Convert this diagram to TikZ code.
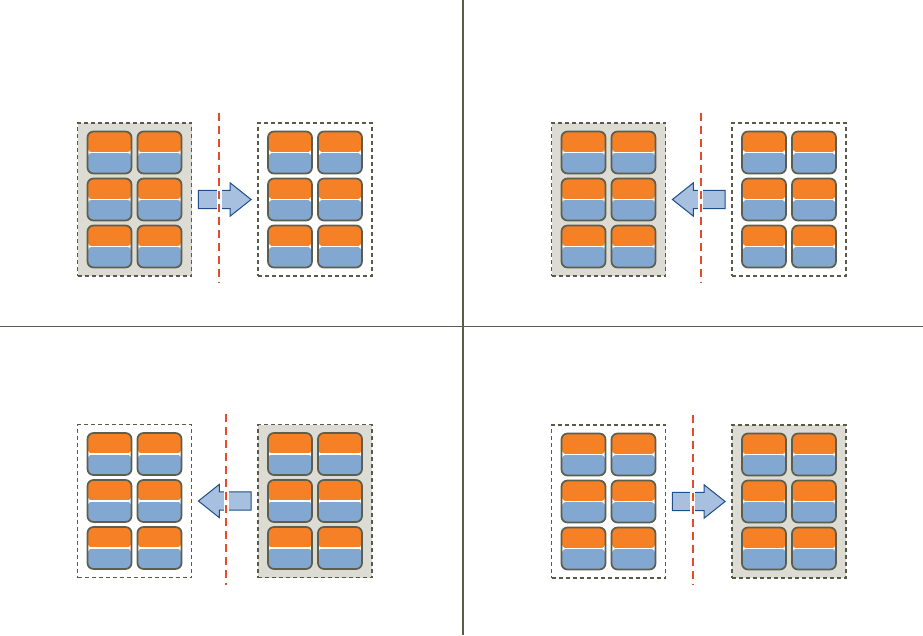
\documentclass[tikz,border=0pt]{standalone}
\usepackage{tikz}
\usetikzlibrary{positioning,calc}

\definecolor{cardorange}{HTML}{F58025}
\definecolor{cardblue}{HTML}{82A7D1}
\definecolor{cardline}{HTML}{5E5E4C}
\definecolor{slotfill}{HTML}{DCDCD4}
\definecolor{slotline}{HTML}{5A5A48}
\definecolor{arrowfill}{HTML}{A8C0E0}
\definecolor{arrowline}{HTML}{1E4E8A}
\definecolor{cutred}{HTML}{EA4A2C}
\definecolor{gridline}{HTML}{5C5C48}

\begin{document}
\begin{tikzpicture}[x=1pt,y=-1pt,
slot/.style={draw=slotline, line width=1.3pt, dash pattern=on 4pt off 3pt,
minimum width=114pt, minimum height=153pt, inner sep=0pt, outer sep=0pt},
full/.style={slot, fill=slotfill},
card/.style={draw=cardline, line width=1.7pt, rounded corners=6pt,
minimum width=44pt, minimum height=42pt, inner sep=0pt,
path picture={
\fill[cardorange] (path picture bounding box.north west) rectangle (path picture bounding box.east);
\fill[cardblue] (path picture bounding box.west) rectangle (path picture bounding box.south east);
\draw[white, line width=1.4pt] (path picture bounding box.west) -- (path picture bounding box.east);}},
move/.style={draw=arrowline, fill=arrowfill, line width=1pt},
halo/.style={white, line width=5pt},
cut/.style={cutred, line width=2pt, dash pattern=on 8pt off 5pt},
]
\useasboundingbox (0,0) rectangle (923,635);

\coordinate (vtop) at (463,0);
\coordinate (vbot) at (463,635);
\coordinate (hl) at (0,326);
\coordinate (hr) at (923,326);
\draw[gridline, line width=2pt] (vtop) -- (vbot);
\draw[gridline, line width=1pt] (hl) -- (hr);

\foreach \p/\cx/\cy/\fl/\fr/\s/\rx in {a/134.5/199.5/full/slot/1/84.5,
b/608.5/199.5/full/slot/-1/92,
c/134.5/501/slot/full/-1/91.5,
d/608.5/501.5/slot/full/1/84}
{
\node[\fl] (\p-l) at (\cx,\cy) {};
\node[\fr, right=66.5pt of \p-l] (\p-r) {};
\foreach \b in {l,r}
\foreach \i/\dx in {1/-25,2/25}
\foreach \j/\dy in {1/-47,2/0,3/47}
\node[card] (\p-\b\i\j) at ([shift={(\dx,\dy)}]\p-\b.center) {};
\coordinate (\p-m) at ($(\p-l.east)!0.5!(\p-r.west)$);
\draw[move, shift={(\p-m)}, xscale=\s] (-26.35,-9.15) -- (5.35,-9.15) -- (5.35,-16.7)
-- (26.35,0) -- (5.35,16.7) -- (5.35,9.15) -- (-26.35,9.15) -- cycle;
\coordinate (\p-t) at ([shift={(\rx,-87)}]\p-l.center);
\coordinate (\p-s) at ([shift={(\rx,83.5)}]\p-l.center);
\draw[halo] (\p-t) -- (\p-s);
\draw[cut] (\p-t) -- (\p-s);
}
\end{tikzpicture}
\end{document}
